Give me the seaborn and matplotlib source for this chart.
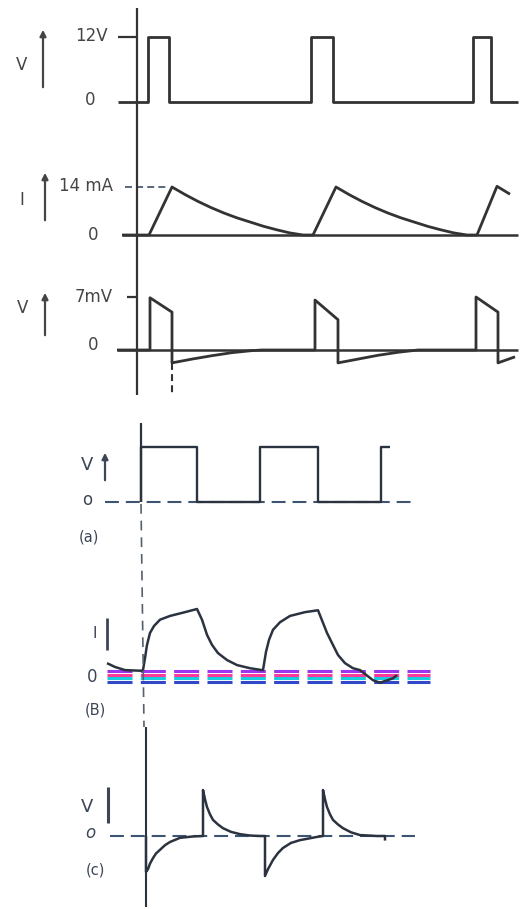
import matplotlib
matplotlib.use("Agg")
import matplotlib.pyplot as plt
from matplotlib.lines import Line2D
import seaborn as sns
import pandas as pd

sns.set_theme(style="white")
plt.rcParams["font.family"] = ["DejaVu Sans"]
plt.rcParams["lines.scale_dashes"] = False
plt.rcParams["lines.solid_capstyle"] = "butt"

# ---------------- data (time in arbitrary units, 0 = vertical axis) ----------------
# Upper diagram: 12 V pulses, coil current (mA), resistor voltage (mV)
pulse_t = [-19, 11, 11, 32, 32, 174, 174, 196, 196, 336, 336, 354, 354, 381]
pulse_v = [0, 0, 12, 12, 0, 0, 12, 12, 0, 0, 12, 12, 0, 0]

current_t = [-15, 12, 35, 48, 61, 74, 87, 100, 114, 127, 140, 153, 166,
             176, 199, 212, 225, 238, 251, 264, 278, 291, 304, 317, 330,
             340, 360, 373]
current_ma = [0, 0, 14, 11.8, 9.8, 8.0, 6.4, 5.0, 3.7, 2.5, 1.5, 0.6, 0,
              0, 14, 11.8, 9.8, 8.0, 6.4, 5.0, 3.7, 2.5, 1.5, 0.6, 0,
              0, 14.2, 11.9]

mv_t = [-20, 13, 13, 35, 35, 55, 75, 95, 115, 125,
        178, 178, 201, 201, 221, 241, 261, 281,
        339, 339, 361, 361, 378]
mv_v = [0, 0, 6.9, 5.0, -1.7, -1.2, -0.75, -0.35, -0.08, 0,
        0, 6.6, 4.0, -1.7, -1.2, -0.7, -0.3, 0,
        0, 7.0, 5.0, -1.7, -0.9]

# Lower diagram: (a) square wave, (b) current, (c) voltage (normalised)
sq_t = [0, 0, 56, 56, 119, 119, 177, 177, 240, 240, 249]
sq_v = [0, 1, 1, 0, 0, 1, 1, 0, 0, 1, 1]

ib_t = [-34, -26, -16, 0, 2, 4, 6, 9, 13, 19, 29, 44, 56,
        61, 66, 71, 77, 86, 96, 109, 121,
        122, 125, 128, 132, 139, 149, 164, 177,
        182, 186, 191, 197, 204, 212, 219, 232, 239, 252, 256]
ib_v = [0.14, 0.08, 0.03, 0.02, 0.03, 0.22, 0.43, 0.62, 0.73, 0.83, 0.89, 0.95, 1.0,
        0.83, 0.59, 0.43, 0.30, 0.19, 0.11, 0.06, 0.03,
        0.03, 0.32, 0.51, 0.67, 0.79, 0.89, 0.95, 0.98,
        0.78, 0.62, 0.46, 0.27, 0.14, 0.06, 0.03, -0.13, -0.17, -0.10, -0.05]

vc_t = [5, 5, 7, 9, 12, 15, 19, 24, 29, 39, 52, 62,
        62, 64, 66, 69, 72, 77, 82, 90, 99, 109, 119,
        124, 124, 127, 132, 137, 142, 150, 159, 176, 182,
        182, 184, 186, 189, 192, 197, 202, 210, 219, 236, 244, 244]
vc_v = [0, -0.78, -0.72, -0.60, -0.48, -0.38, -0.30, -0.20, -0.13, -0.04, -0.01, 0,
        1.0, 0.80, 0.63, 0.47, 0.35, 0.25, 0.17, 0.09, 0.04, 0.01, 0,
        0, -0.87, -0.72, -0.52, -0.37, -0.26, -0.15, -0.09, -0.02, 0,
        1.0, 0.80, 0.63, 0.47, 0.35, 0.25, 0.17, 0.08, 0.02, 0, 0, -0.1]

# ---------------- layout helpers ----------------
W, H = 527, 909
fig = plt.figure(figsize=(W / 100, H / 100), dpi=100)
fig.patch.set_facecolor("white")

INK = "#333333"
INK2 = "#2c3340"
TXT = "#454545"
TXT2 = "#3c4656"


def panel(top, bot, x0, v0, py0, v1, py1):
    ax = fig.add_axes([0, 1 - bot / H, 1, (bot - top) / H])
    scale = (py0 - py1) / (v1 - v0)
    ax.set_xlim(-x0, W - x0)
    ax.set_ylim(v0 - (bot - py0) / scale, v0 + (py0 - top) / scale)
    ax.set_axis_off()
    ax.patch.set_alpha(0)
    return ax


def val(ax, py, top, bot):
    lo, hi = ax.get_ylim()
    return hi - (py - top) / (bot - top) * (hi - lo)


def ftext(x, y, s, **kw):
    kw.setdefault("color", TXT)
    kw.setdefault("ha", "center")
    kw.setdefault("va", "center")
    fig.text(x / W, 1 - y / H, s, **kw)


def farrow(x, y0, y1, head=True, lw=1.6, color=TXT):
    if head:
        fig.add_artist(matplotlib.patches.FancyArrowPatch(
            (x / W, 1 - y0 / H), (x / W, 1 - y1 / H), transform=fig.transFigure,
            arrowstyle="-|>", mutation_scale=9, lw=lw, color=color))
    else:
        fig.add_artist(Line2D([x / W, x / W], [1 - y0 / H, 1 - y1 / H],
                              lw=lw, color=color))


def wave(ax, t, v, color=INK, lw=2.0):
    sns.lineplot(x=t, y=v, sort=False, estimator=None, ax=ax,
                 color=color, linewidth=lw)
    ax.set_axis_off()


# ---------------- upper diagram ----------------
ax1 = panel(8, 150, 137, 0, 102, 12, 37)
wave(ax1, pulse_t, pulse_v)
ax1.plot([-19, 0], [12, 12], color=INK, lw=1.6)

ax2 = panel(150, 265, 137, 0, 235, 14, 187)
ax2.plot([-15, 381], [0, 0], color=INK, lw=1.8)
ax2.plot([-12, 31], [14, 14], color="#4a5a70", lw=1.3, dashes=(5, 3))
wave(ax2, current_t, current_ma)

ax3 = panel(265, 398, 137, 0, 350, 7, 297)
ax3.plot([-20, 381], [0, 0], color=INK, lw=1.8)
ax3.plot([-10, 0], [7, 7], color=INK, lw=1.6)
wave(ax3, mv_t, mv_v)
ax3.plot([35, 35], [-1.7, val(ax3, 396, 265, 398)], color=INK, lw=1.5,
         dashes=(5, 3))

# vertical axis of the upper diagram
fig.add_artist(Line2D([137 / W, 137 / W], [1 - 8 / H, 1 - 395 / H],
                      lw=1.6, color=INK))

ftext(22, 65, "V", fontsize=12)
farrow(43, 90, 27)
ftext(108, 36, "12V", fontsize=12, ha="right")
ftext(90, 100, "0", fontsize=12)

ftext(22, 200, "I", fontsize=12)
farrow(45, 223, 170)
ftext(113, 186, "14 mA", fontsize=12, ha="right")
ftext(93, 235, "0", fontsize=12)

ftext(23, 308, "V", fontsize=12)
farrow(45, 338, 290)
ftext(113, 297, "7mV", fontsize=12, ha="right")
ftext(93, 345, "0", fontsize=12)

# ---------------- lower diagram ----------------
axa = panel(415, 560, 141, 0, 502, 1, 447)
axa.plot([-36, 272], [0, 0], color="#3d5570", lw=1.5, dashes=(10, 5))
axa.plot([0, 0], [0, val(axa, 423, 415, 560)], color=INK2, lw=1.6)
wave(axa, sq_t, sq_v, color=INK2, lw=1.7)

axb = panel(560, 725, 141, 0, 672, 1, 609)
stripe_colors = ["#2f49c8", "#18cde0", "#ff3a9a", "#9b35f0"]
stripe_py = [682, 678, 675, 671]
for c, py in zip(stripe_colors, stripe_py):
    v = val(axb, py, 560, 725)
    axb.plot([-34, 289], [v, v], color=c, lw=2.2, dashes=(18, 6))
wave(axb, ib_t, ib_v, color=INK2, lw=1.8)

axc = panel(725, 909, 141, 0, 836, 1, 790)
axc.plot([-31, 274], [0, 0], color="#3d5570", lw=1.5, dashes=(10, 5))
axc.plot([5, 5], [val(axc, 727, 725, 909), val(axc, 907, 725, 909)],
         color=INK2, lw=1.5)
wave(axc, vc_t, vc_v, color=INK2, lw=1.8)

# dashed vertical guide linking (a), (b) and (c)
fig.add_artist(Line2D([141 / W, 144 / W], [1 - 504 / H, 1 - 727 / H],
                      lw=1.2, color="#55606e", dashes=(7, 5)))

ftext(87, 465, "V", fontsize=13, color=TXT2)
farrow(105, 483, 450, color=TXT2)
ftext(87, 500, "o", fontsize=12, color=TXT2)
ftext(89, 537, "(a)", fontsize=10.5, color=TXT2)

ftext(95, 633, "I", fontsize=11, color=TXT2)
farrow(107, 618, 650, head=False, lw=2.0, color=TXT2)
ftext(92, 677, "0", fontsize=12, color=TXT2)
ftext(95, 710, "(B)", fontsize=10.5, color=TXT2)

ftext(87, 807, "V", fontsize=13, color=TXT2)
farrow(108, 787, 823, head=False, lw=2.2, color=TXT2)
ftext(90, 833, "o", fontsize=12, color=TXT2, style="italic")
ftext(95, 870, "(c)", fontsize=10.5, color=TXT2)

fig.savefig("out.png", dpi=100, facecolor="white")
